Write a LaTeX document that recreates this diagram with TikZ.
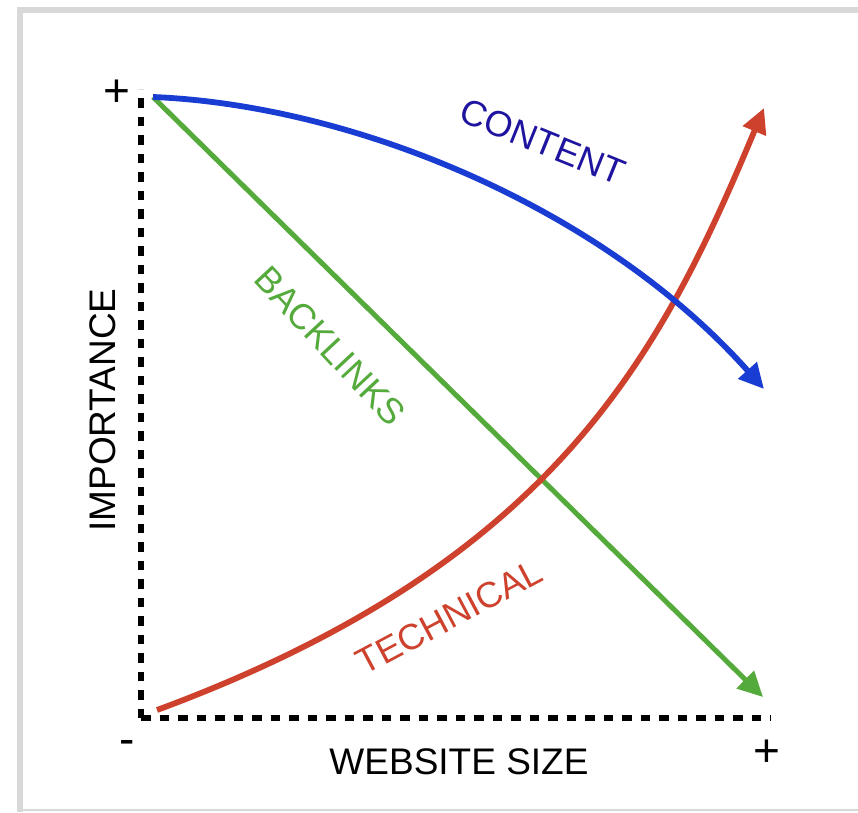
\documentclass[tikz,border=0pt]{standalone}
\usepackage{fontspec}
\setmainfont{Liberation Sans}
\usetikzlibrary{arrows.meta}
\definecolor{cblue}{RGB}{25,60,210}
\definecolor{ctext}{RGB}{30,20,160}
\definecolor{cgreen}{RGB}{85,170,60}
\definecolor{cred}{RGB}{205,65,45}
\definecolor{framegray}{RGB}{216,216,216}
\begin{document}
\begin{tikzpicture}[x=1pt,y=-1pt,
 axis/.style={line width=5.5pt, dash pattern=on 9.5pt off 9pt},
 curve/.style={line width=5.8pt, -{Triangle[length=25pt,width=24pt]}},
 lbl/.style={font=\fontsize{36}{36}\selectfont, inner sep=0pt},
 axlbl/.style={font=\fontsize{37}{37}\selectfont, inner sep=0pt},
 sign/.style={font=\fontsize{46}{46}\selectfont, inner sep=0pt}]
\useasboundingbox (0,0) rectangle (858,812);
\fill[white] (0,0) rectangle (858,812);
\draw[framegray, line width=6pt] (20,812) -- (20,9.5) -- (858,9.5);
\draw[framegray, line width=2pt] (20,810) -- (858,810);
% axes
\coordinate (O) at (141,718);
\coordinate (ytop) at (141,89);
\coordinate (xend) at (771,718);
\draw[axis] (O) -- (ytop);
\draw[axis] (O) -- (xend);
% curves
\coordinate (S) at (153,97);
\coordinate (Bend) at (764,389);
\coordinate (Gend) at (763,697);
\coordinate (Rs) at (157,710);
\coordinate (Rend) at (764,108);
\draw[curve, cgreen, line width=5pt] (S) -- (Gend);
\draw[curve, cred] (Rs) .. controls (557,562) and (662,352) .. (Rend);
\draw[curve, cblue] (S) .. controls (350,105) and (600,205) .. (Bend);
% labels
\node[lbl, ctext, rotate=-22] (content) at (543,142) {CONTENT};
\node[lbl, cgreen, rotate=-47] (backlinks) at (330,346) {BACKLINKS};
\node[lbl, cred, rotate=28] (technical) at (449,617) {TECHNICAL};
\node[axlbl, rotate=90] (imp) at (103,410) {IMPORTANCE};
\node[axlbl] (ws) at (459,762) {WEBSITE SIZE};
\node[sign] (plus1) at (117,93) {+};
\node[sign] (minus) at (127,747) {-};
\node[sign] (plus2) at (767,753) {+};
\end{tikzpicture}
\end{document}
